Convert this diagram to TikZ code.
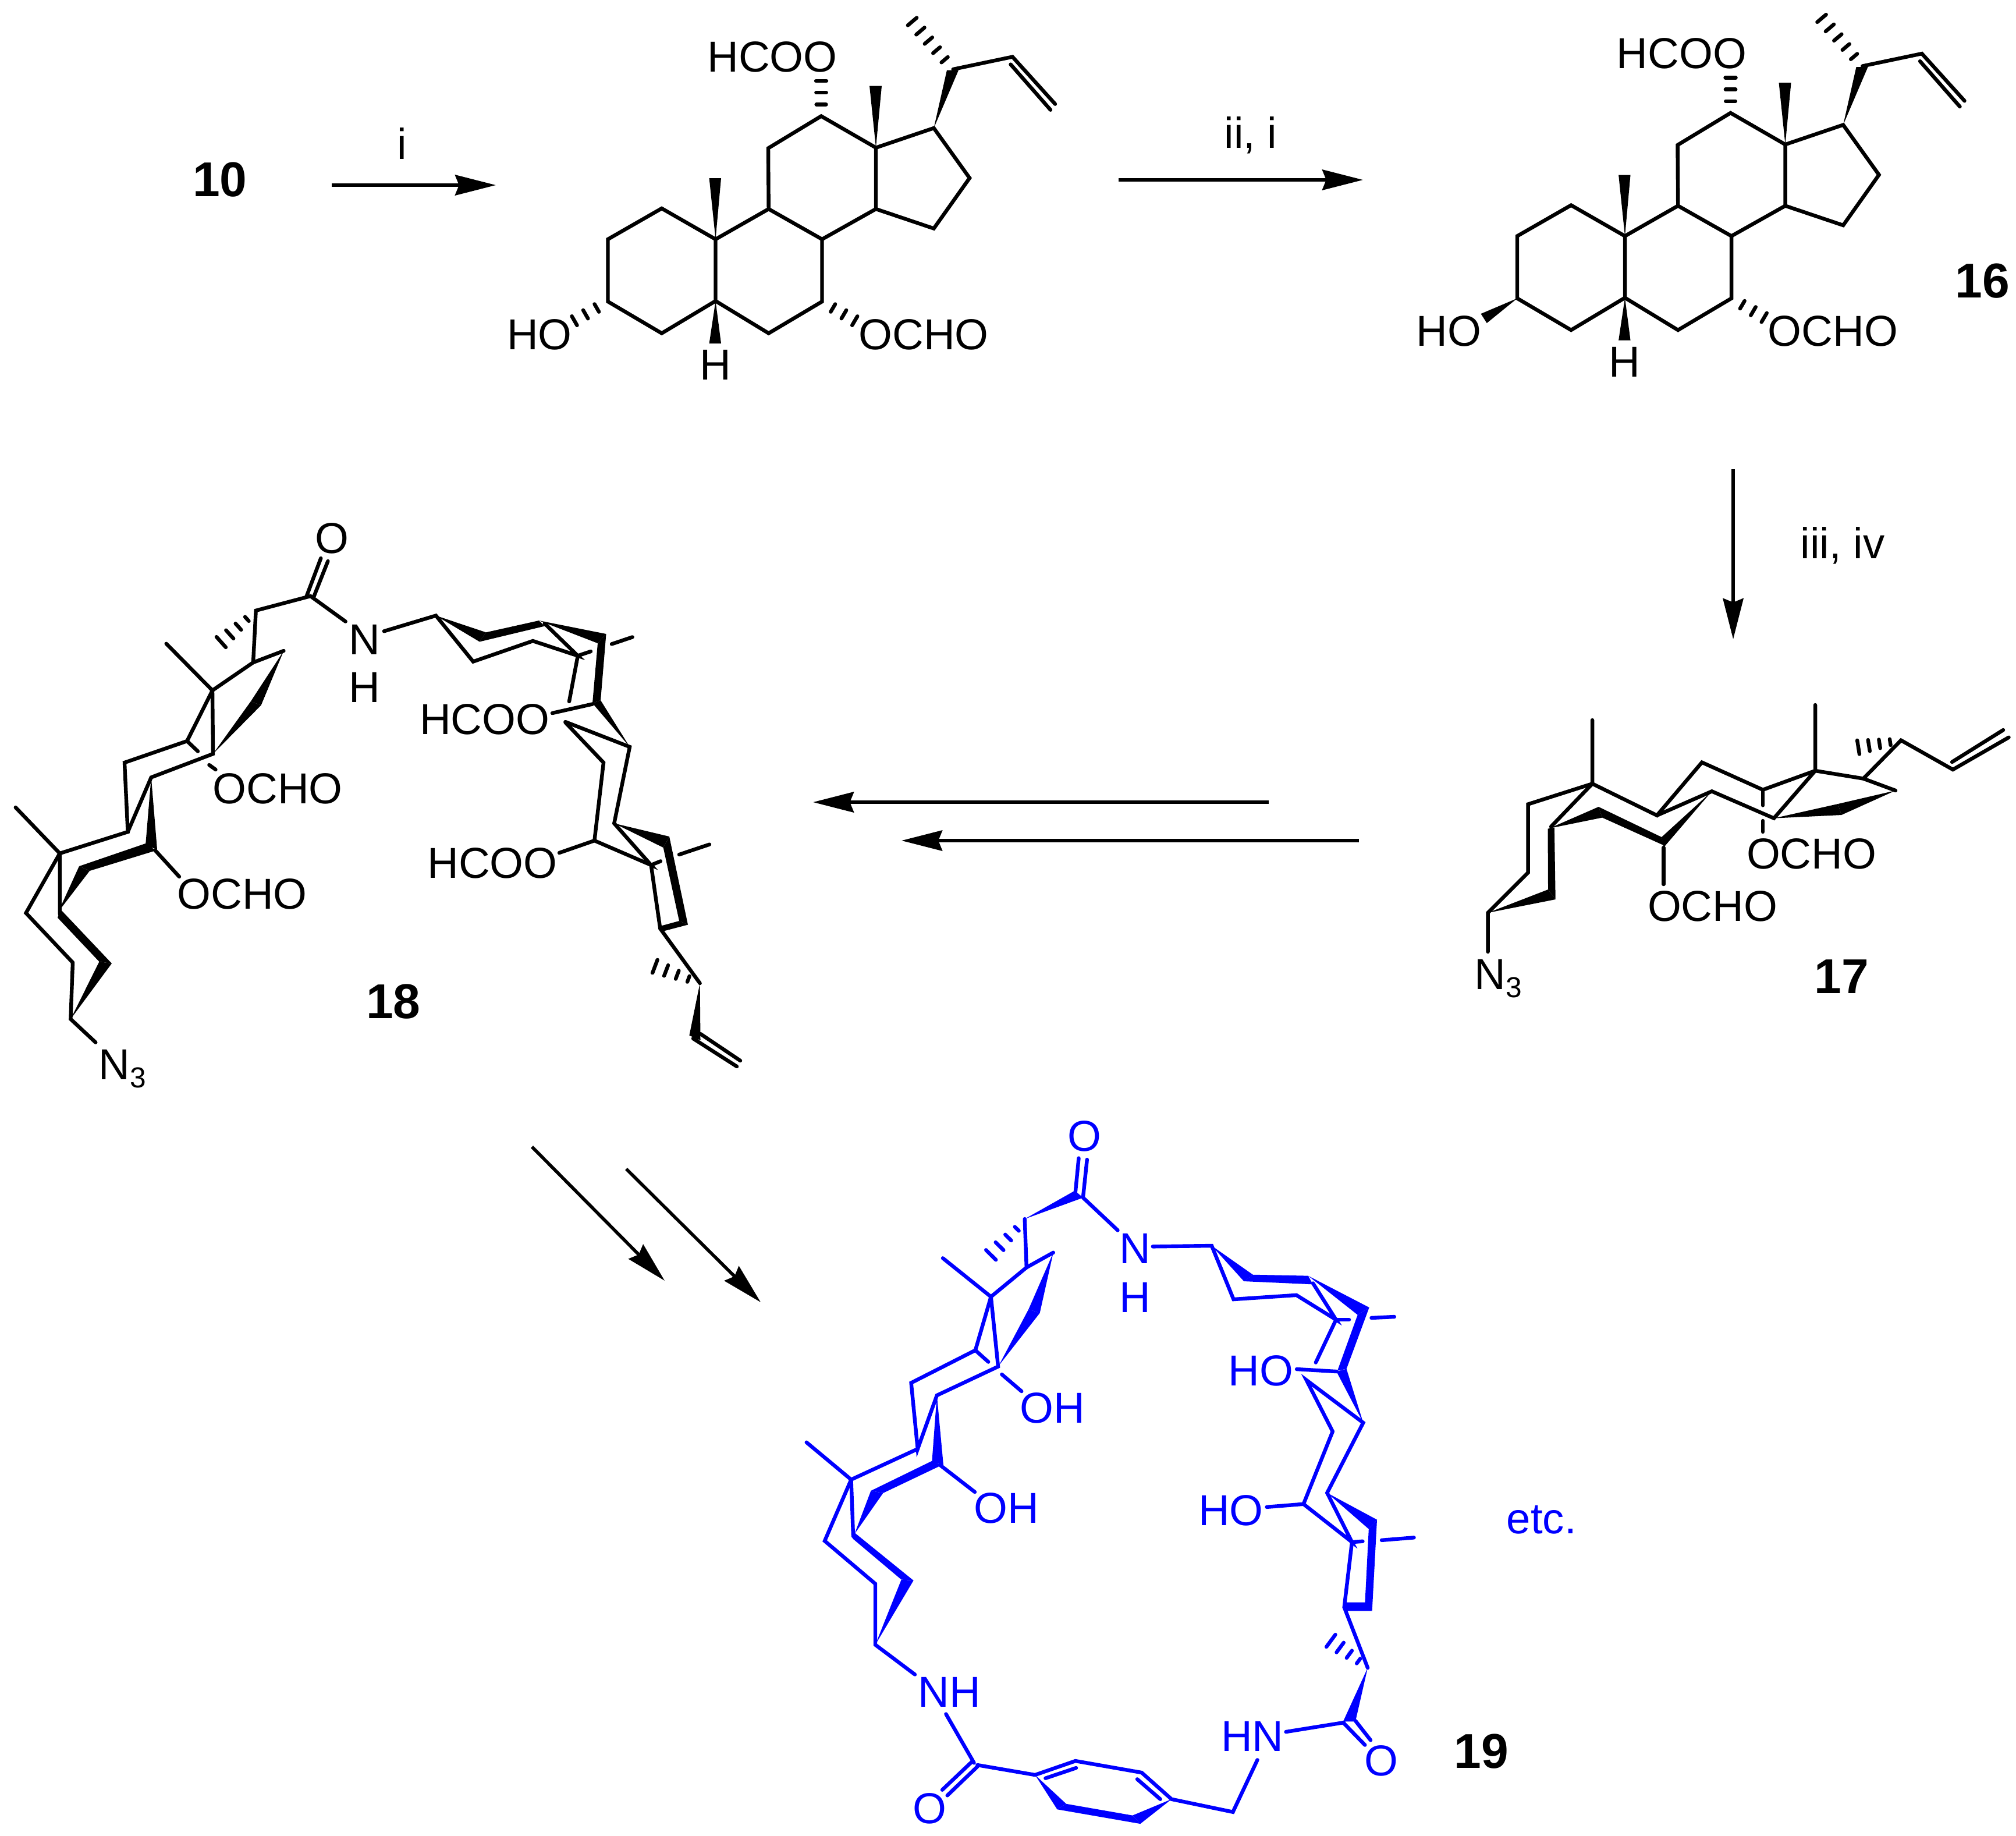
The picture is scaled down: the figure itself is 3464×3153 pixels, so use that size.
\documentclass[tikz,border=0pt]{standalone}
\usepackage{fontspec}
\setmainfont{Liberation Sans}
\usetikzlibrary{arrows.meta}
\definecolor{chemblue}{RGB}{0,0,255}
\tikzset{
  bond/.style={line width=1.6pt,line cap=round,line join=miter},
  hashline/.style={line width=1.6pt,line cap=round},
  atom/.style={inner sep=0pt,font=\fontsize{18.6}{20}\selectfont},
  cpd/.style={inner sep=0pt,font=\fontsize{21}{24}\selectfont\bfseries},
  reagent/.style={inner sep=0pt,font=\fontsize{18.6}{20}\selectfont},
  rxn/.style={line width=1.4pt,-{Stealth[length=17.5pt,width=8.75pt,inset=1.7pt]}}
}
\newcommand\hashb[7]{%
  \foreach \k in {1,...,#7}{%
    \pgfmathsetmacro\tt{\k/#7}%
    \pgfmathsetmacro\ddx{#3-(#1)}%
    \pgfmathsetmacro\ddy{#4-(#2)}%
    \pgfmathsetmacro\len{veclen(\ddx,\ddy)}%
    \pgfmathsetmacro\half{(#5+(#6-#5)*\tt)/2}%
    \pgfmathsetmacro\px{#1+\tt*\ddx}%
    \pgfmathsetmacro\py{#2+\tt*\ddy}%
    \pgfmathsetmacro\nx{-\ddy/\len*\half}%
    \pgfmathsetmacro\ny{\ddx/\len*\half}%
    \draw[hashline] (\px+\nx,\py+\ny) -- (\px-\nx,\py-\ny);
  }%
}
% shared steroid skeleton of the two top structures
\newcommand\coreskeleton{%
  \draw[bond] (1044.5,411)--(1137,358)--(1229.5,411)--(1229.5,517)--(1137,572.5)--(1044.5,518)--cycle;
  \draw[bond] (1229.5,517)--(1320.7,572.5)--(1412.5,518)--(1412.5,411)--(1320.7,359)--(1229.5,411);
  \draw[bond] (1412.5,411)--(1505,359)--(1505,253.7)--(1411,199.5)--(1320,254.6)--(1320.7,359);
  \draw[bond] (1505,253.7)--(1604.5,220)--(1666,305.8)--(1604.5,392.5)--(1505,359);
  \draw[bond] (1637.7,119)--(1739.7,97.6)--(1813,178.7);
  \draw[bond] (1736.5,110.6)--(1805,188.7);
  \fill (1229.5,411)--(1218.6,306)--(1239,306)--cycle;
  \fill (1505,253.7)--(1494,147.5)--(1515,147.5)--cycle;
  \fill (1229.5,517)--(1218.6,590)--(1239,590)--cycle;
  \fill (1604.5,220)--(1627,120.5)--(1647,120.5)--cycle;
  \hashb{1637}{119}{1567.5}{37}{13}{20}{5}
  \hashb{1411}{199.5}{1411}{139}{16}{18}{3}
  \hashb{1412.5}{518}{1468.7}{551}{14}{18}{3}
}
\begin{document}
\begin{tikzpicture}[x=0.25pt,y=-0.25pt]
\useasboundingbox (0,0) rectangle (3464,3153);
\path[fill=white] (0,0) rectangle (3464,3153);

% ---------- reaction arrows
\coordinate (r1a) at (570,318);   \coordinate (r1b) at (852,318);
\coordinate (r2a) at (1922,309);  \coordinate (r2b) at (2342,309);
\coordinate (r3a) at (2978,806);  \coordinate (r3b) at (2978,1098);
\coordinate (r4a) at (2180,1378); \coordinate (r4b) at (1397,1378);
\coordinate (r5a) at (2335,1444); \coordinate (r5b) at (1549,1444);
\coordinate (r6a) at (914,1970);  \coordinate (r6b) at (1142,2200);
\coordinate (r7a) at (1076,2008); \coordinate (r7b) at (1307,2237);
\draw[rxn] (r1a)--(r1b);
\draw[rxn] (r2a)--(r2b);
\draw[rxn] (r3a)--(r3b);
\draw[rxn] (r4a)--(r4b);
\draw[rxn] (r5a)--(r5b);
\draw[rxn] (r6a)--(r6b);
\draw[rxn] (r7a)--(r7b);
\node[reagent] (ri) at (691,247) {i};
\node[reagent] (rii) at (2149,232) {ii, i};
\node[reagent] (riii) at (3166,937) {iii, iv};

% ---------- compound labels
\node[cpd] (c10) at (378,309) {10};
\node[cpd] (c16) at (3406,483) {16};
\node[cpd] (c17) at (3164,1678) {17};
\node[cpd] (c18) at (676,1721) {18};
\node[cpd] (c19) at (2545,3009) {19};

% ---------- first steroid
\coreskeleton
\hashb{1044.5}{518}{987}{551}{14}{18}{3}
\node[atom] (a1) at (1327,97.6) {HCOO};
\node[atom] (a2) at (927,574.6) {HO};
\node[atom] (a3) at (1587,574.6) {OCHO};
\node[atom] (a4) at (1229,627) {H};

% ---------- compound 16
\begin{scope}[shift={(1562.5,-5.5)}]
\coreskeleton
\fill (1044.5,518)--(982,544.5)--(992.2,560.5)--cycle;
\node[atom] (b1) at (1327,97.6) {HCOO};
\node[atom] (b2) at (927,574.6) {HO};
\node[atom] (b3) at (1587,574.6) {OCHO};
\node[atom] (b4) at (1229,627) {H};
\end{scope}

% ---------- compound 17
\draw[bond] (2556.6,1635)--(2556.6,1568)--(2625.6,1499)--(2625.6,1381.5)--(2736,1346.3)--(2847,1400.7)--(2924.3,1309.6)--(3029,1356.7)--(3119,1324)--(3201.7,1337.5)--(3257,1358);
\draw[bond] (2736,1237)--(2736,1346.3)--(2665,1420);
\draw[bond] (2847,1400.7)--(2941.3,1359.3)--(3048,1405.6)--(3119,1324)--(3119,1211);
\draw[bond] (3201.7,1337.5)--(3266.4,1271.7)--(3355.5,1322)--(3451.5,1266.7);
\draw[bond] (3354,1309)--(3442,1254);
\draw[bond] (3029,1356.7)--(3029,1383.4);
\draw[bond] (3029,1410)--(3029,1429);
\draw[bond] (2858.4,1456)--(2858.4,1519);
\hashb{3266}{1272}{3193}{1283.6}{6}{24}{4}
\fill (3048,1405.6)--(3164,1400)--(3158,1381)--cycle;
\fill (3257,1358)--(3164,1400)--(3158,1381)--cycle;
\fill (2941.3,1359.3)--(2855,1438)--(2858.4,1456)--cycle;
\fill (2855,1438)--(2746.7,1386)--(2753,1404.5)--(2858.4,1452)--cycle;
\fill (2662,1423)--(2746.7,1386)--(2753,1404.5)--cycle;
\fill (2659.5,1423.6)--(2670.8,1421.7)--(2672.7,1545)--(2660,1528)--cycle;
\fill (2556.6,1568)--(2660,1528)--(2672.7,1545)--cycle;
\node[atom] (d1) at (3112.6,1467) {OCHO};
\node[atom] (d2) at (2942.6,1557) {OCHO};
\node[atom,anchor=base west] (d3) at (2533,1699) {N\raisebox{-3.5pt}{\fontsize{12.4}{12}\selectfont 3}};

% ---------- compound 18
\draw[bond] (164.3,1790.7)--(121.4,1750.6)--(125,1653.5)--(44.6,1568.4)--(102.7,1466)--(219.6,1429)--(214,1310)--(321.4,1273)--(365,1186)--(435,1138)--(487.5,1118);
\draw[bond] (435,1138)--(439.7,1048.8)--(533.5,1024)--(593.7,1067.6);
\draw[bond] (526.8,1024)--(551.3,959);
\draw[bond] (538.8,1026)--(563.4,964);
\draw[bond] (285.7,1105.7)--(365,1186)--(366,1295)--(259.8,1335.4)--(219.6,1429);
\draw[bond] (321.4,1273)--(340,1290.6);
\draw[bond] (26.8,1387)--(102.7,1466)--(102.7,1570);
\draw[bond] (359.4,1314)--(370.5,1322);
\draw[bond] (266.5,1460.6)--(308,1506);
\hashb{439}{1050}{380}{1103}{5}{24}{4}
\fill (366,1295)--(448.6,1211.5)--(430.8,1205)--cycle;
\fill (487.5,1118)--(448.6,1211.5)--(430.8,1205)--cycle;
\fill (259.8,1335.4)--(250,1452.6)--(270,1459)--cycle;
\fill (250,1449)--(136,1488)--(154,1496)--(268,1461)--cycle;
\fill (100.4,1566)--(136,1488)--(154,1496)--cycle;
\fill (103.6,1561.7)--(192,1655)--(170.5,1652)--(99,1576.5)--cycle;
\fill (121.4,1750.6)--(170.5,1652)--(192,1655)--cycle;
\node[atom] (e1) at (477,1355) {OCHO};
\node[atom] (e2) at (416,1536) {OCHO};
\node[atom] (e3) at (570,925) {O};
\node[atom] (e4) at (626,1099) {N};
\node[atom] (e5) at (626,1181) {H};
\node[atom,anchor=base west] (e6) at (169,1854) {N\raisebox{-3.5pt}{\fontsize{12.4}{12}\selectfont 3}};
% right-hand half of 18
\draw[bond] (659.8,1084.3)--(749,1057.5)--(813,1136.5)--(915.6,1101)--(992.8,1126.5)--(935.7,1071);
\draw[bond] (992.8,1126.5)--(1015,1119);
\draw[bond] (992.8,1126.5)--(978,1205);
\draw[bond] (1051,1106.4)--(1086.6,1094.4);
\draw[bond] (949,1225)--(1018,1209.5);
\draw[bond] (971.4,1240)--(1082,1283)--(1055.3,1414.4)--(1118.7,1486)--(1021.4,1444)--(1037,1310)--(971.4,1241);
\draw[bond] (961,1465)--(1021.4,1444);
\draw[bond] (1118.7,1486)--(1134.3,1595)--(1202.6,1689);
\draw[bond] (1118.7,1486)--(1135,1479.4);
\draw[bond] (1167,1468)--(1219,1450.6);
\draw[bond] (1203.5,1776)--(1272,1822);
\draw[bond] (1191,1784)--(1266,1832);
\hashb{1202}{1689}{1125.4}{1660}{6}{24}{4}
\fill (749,1057.5)--(824,1102.4)--(835,1086.3)--cycle;
\fill (835,1086.3)--(926,1066)--(935.7,1075.6)--(824,1102.4)--cycle;
\fill (926,1066)--(1041.5,1089)--(1027,1105)--cycle;
\fill (1041.5,1089)--(1027,1105)--(1018,1208)--(1032,1203)--cycle;
\fill (1018,1208)--(1032,1203)--(1082,1283)--cycle;
\fill (1055.3,1414.4)--(1150,1437)--(1139.7,1456)--cycle;
\fill (1150,1437)--(1139.7,1456)--(1167,1582)--(1182,1588.5)--cycle;
\fill (1182,1588.5)--(1167,1582)--(1134,1591)--(1136,1600.6)--cycle;
\fill (1202.6,1689)--(1184.4,1778.7)--(1203.5,1787)--cycle;
\node[atom] (e7) at (832.6,1236) {HCOO};
\node[atom] (e8) at (846,1482.7) {HCOO};

% ---------- compound 19 (blue)
\begin{scope}[color=chemblue]
\draw[bond] (1853.5,1989.5)--(1847.8,2048);
\draw[bond] (1867.8,1992)--(1861,2056);
\draw[bond] (1861,2057.4)--(1920.5,2113.4);
\draw[bond] (1760.7,2094)--(1763.8,2177.3)--(1809.8,2151.7);
\draw[bond] (1763.8,2177.3)--(1702.7,2227.6)--(1620,2161.3);
\draw[bond] (1702.7,2227.6)--(1675.9,2319.5)--(1565.6,2375.5)--(1576.8,2489)--(1609.8,2397)--(1715,2347.5)--(1702.7,2227.6);
\draw[bond] (1675.9,2319.5)--(1698.2,2339.5);
\draw[bond] (1721.4,2361)--(1755.3,2390);
\draw[bond] (1615.6,2517)--(1675,2563);
\draw[bond] (1576.8,2489)--(1462.5,2541.7)--(1385.7,2477.7);
\draw[bond] (1462.5,2541.7)--(1466,2639);
\draw[bond] (1462.5,2541.7)--(1417,2647)--(1504,2720.7)--(1504,2825.4)--(1572,2876.5);
\draw[bond] (1625.4,2944.4)--(1673.6,3028.3);
\draw[bond] (1619,3074.7)--(1671.4,3025);
\draw[bond] (1627.7,3084.3)--(1679.4,3034.7);
\draw[bond] (1679.4,3032)--(1778.5,3049)--(1847.8,3025)--(1961.6,3045)--(2013,3090.7)--(2118.4,3112.7)--(2160.5,3023.2);
\draw[bond] (1796.4,3054.7)--(1849,3037);
\draw[bond] (1954,3056.3)--(1993.7,3090.7);
\draw[bond] (1980.8,2141.3)--(2082,2140)--(2119.5,2232)--(2227.5,2224.8)--(2295.6,2267)--(2256,2204.4);
\draw[bond] (2295.6,2267)--(2318,2267);
\draw[bond] (2295.6,2267)--(2260.8,2340.6);
\draw[bond] (2356.4,2263.9)--(2395.8,2262);
\draw[bond] (2228,2352)--(2296.3,2356);
\draw[bond] (2289.8,2459)--(2244.7,2370.7)--(2342.3,2444)--(2280.3,2564.5)--(2323,2649)--(2239.7,2583.7)--(2289.8,2459);
\draw[bond] (2176.6,2588.8)--(2239.7,2583.7);
\draw[bond] (2323,2649)--(2341.5,2647.7);
\draw[bond] (2323,2649)--(2309.7,2761)--(2350,2865);
\draw[bond] (2374,2645.8)--(2429.5,2641.3);
\draw[bond] (2309,2959)--(2209.5,2975);
\draw[bond] (2307.8,2959)--(2345.3,2997.6);
\draw[bond] (2328.9,2956)--(2355,2989.3);
\hashb{1762}{2096}{1702.7}{2155.7}{5}{24}{4}
\hashb{2350}{2865}{2286.8}{2818.5}{5}{26}{4}
\fill (1760.7,2094)--(1846.8,2045.4)--(1861,2057.4)--cycle;
\fill (1716,2346)--(1767.4,2249)--(1786.6,2255.6)--cycle;
\fill (1809.8,2151.7)--(1767.4,2249)--(1786.6,2255.6)--cycle;
\fill (1609.8,2397)--(1601.3,2511.3)--(1621,2517)--cycle;
\fill (1601.3,2509.7)--(1496.4,2560.9)--(1517.4,2564.8)--(1617.8,2517)--cycle;
\fill (1468.3,2635)--(1496.4,2560.9)--(1517.4,2564.8)--cycle;
\fill (1466,2631)--(1569.6,2715)--(1548.7,2713.5)--(1465,2643)--cycle;
\fill (1504,2825.4)--(1548.7,2713.5)--(1569.6,2715)--cycle;
\fill (1778.5,3049)--(1816.5,3108.2)--(1832,3098.7)--cycle;
\fill (1816.5,3108.2)--(1832,3098.7)--(1946,3118.6)--(1959.3,3133)--cycle;
\fill (2013,3090.7)--(1946,3118.6)--(1959.3,3133)--cycle;
\fill (2082,2140)--(2137.5,2201.2)--(2152.8,2189.7)--cycle;
\fill (2137.5,2201)--(2152.8,2189.7)--(2247.7,2191.6)--(2256,2206.3)--cycle;
\fill (2247.7,2191.6)--(2352.6,2246)--(2332.7,2258.7)--cycle;
\fill (2352.6,2246)--(2332.7,2258.7)--(2298,2354.7)--(2313.6,2351.5)--cycle;
\fill (2296.3,2356)--(2313.6,2351.5)--(2342.3,2444)--cycle;
\fill (2280.3,2564.5)--(2366,2610.6)--(2351.8,2626.6)--cycle;
\fill (2366,2610.6)--(2351.8,2626.6)--(2345.3,2754.5)--(2357.6,2767.3)--cycle;
\fill (2345.3,2752.6)--(2357.6,2767.3)--(2309,2767.3)--(2313.6,2752.6)--cycle;
\fill (2350,2865)--(2307.8,2957.3)--(2328.9,2957.3)--cycle;
\node[atom,text=chemblue] (f1) at (1863.4,1952) {O};
\node[atom,text=chemblue] (f2) at (1950.4,2145) {N};
\node[atom,text=chemblue] (f3) at (1950.4,2229) {H};
\node[atom,text=chemblue] (f4) at (1808,2418.6) {OH};
\node[atom,text=chemblue] (f5) at (1729.4,2591) {OH};
\node[atom,text=chemblue] (f6) at (1631,2906.8) {NH};
\node[atom,text=chemblue] (f7) at (1597.8,3106.7) {O};
\node[atom,text=chemblue] (f8) at (2166.6,2354.7) {HO};
\node[atom,text=chemblue] (f9) at (2115,2595) {HO};
\node[atom,text=chemblue] (f10) at (2373,3024.5) {O};
\node[atom,text=chemblue] (f11) at (2151.7,2983) {HN};
\node[reagent,text=chemblue] (f12) at (2648.7,2611) {etc.};
\end{scope}
\end{tikzpicture}
\end{document}
